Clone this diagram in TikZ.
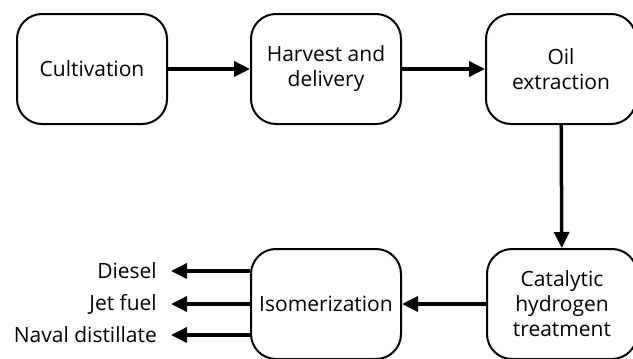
\documentclass[tikz,border=0pt]{standalone}
\usepackage{fontspec}
\setmainfont{Open Sans}
\usetikzlibrary{arrows.meta}

\begin{document}
\begin{tikzpicture}[x=1pt, y=-1pt,
		step box/.style={shape=rectangle, rounded corners=25pt, draw, line width=2pt,
			minimum width=150pt, minimum height=110pt, align=center, font=\fontsize{21}{25}\selectfont},
		flow/.style={line width=3.5pt, -{Triangle[length=16pt,width=15pt]}},
		product/.style={anchor=east, inner xsep=14pt, inner ysep=0pt, font=\fontsize{21}{25}\selectfont}]

		\useasboundingbox (0,0) rectangle (633,359);

		\node (v0) at (92,69) [step box] {Cultivation};
		\node (v1) at (326,69) [step box] {Harvest and\\delivery};
		\node (v2) at (561,69) [step box] {Oil\\extraction};
		\node (v3) at (562,304) [step box] {Catalytic\\hydrogen\\treatment};
		\node (v4) at (326,304) [step box] {Isomerization};

		\node (p0) at (171,271) [product] {Diesel};
		\node (p1) at (171,304) [product] {Jet fuel};
		\node (p2) at (171,335) [product] {Naval distillate};

		\draw[flow] (v0) -- (v1);
		\draw[flow] (v1) -- (v2);
		\draw[flow] (v2) -- (v3);
		\draw[flow] (v3) -- (v4);
		\draw[flow] (v4.west |- p0) -- (p0);
		\draw[flow] (v4.west |- p1) -- (p1);
		\draw[flow] (v4.west |- p2) -- (p2);
	\end{tikzpicture}
\end{document}
